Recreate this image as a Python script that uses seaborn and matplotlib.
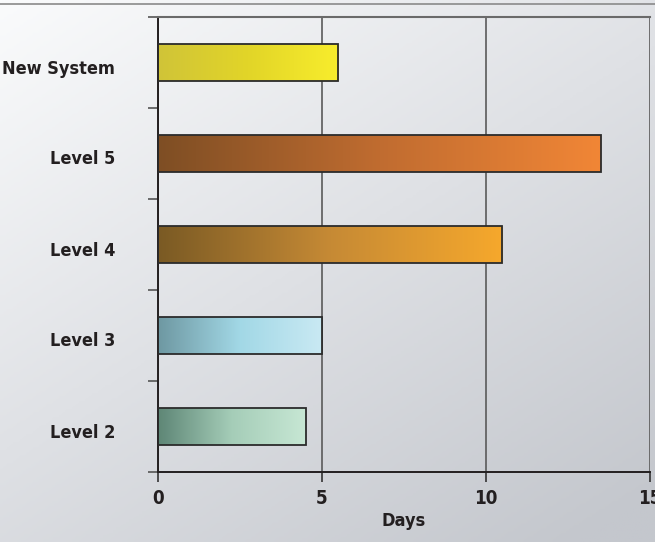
import numpy as np
import pandas as pd
import matplotlib
matplotlib.use("Agg")
import matplotlib.pyplot as plt
from matplotlib.colors import LinearSegmentedColormap
from matplotlib.lines import Line2D
from matplotlib.transforms import ScaledTranslation
import seaborn as sns

# ---- data ----
categories = ["New System", "Level 5", "Level 4", "Level 3", "Level 2"]
days = [5.5, 13.5, 10.5, 5.0, 4.5]
x_ticks = [0, 5, 10, 15]
x_label = "Days"

# ---- style ----
grad_colors = {
    "New System": ["#d0c438", "#e2d528", "#f8ed2c"],
    "Level 5": ["#7e4e24", "#c06c30", "#f18636"],
    "Level 4": ["#7a5a24", "#c68a35", "#f6a82c"],
    "Level 3": ["#6e98a2", "#a2d8e6", "#c9e9f3"],
    "Level 2": ["#5e8676", "#a5cdb8", "#c7e7d4"],
}
text_color = "#231f20"

sns.set_theme(style="white")
plt.rcParams["font.family"] = ["DejaVu Sans"]

fig = plt.figure(figsize=(6.55, 5.42), dpi=100)

# background gradient
bg = fig.add_axes([0, 0, 1, 1], zorder=-10)
yy, xx = np.mgrid[0:1:200j, 0:1:200j]
t = np.clip(0.6 * yy + 0.45 * xx, 0, 1)
bg_cmap = LinearSegmentedColormap.from_list("bg", ["#fafbfc", "#dfe1e5", "#c4c7cd"])
bg.imshow(t, cmap=bg_cmap, aspect="auto", extent=[0, 1, 1, 0], vmin=0, vmax=1)
bg.set_xlim(0, 1); bg.set_ylim(1, 0)
bg.axis("off")

ax = fig.add_axes([158 / 655, 1 - 472 / 542, 492 / 655, 455 / 542])
ax.set_facecolor("none")

df = pd.DataFrame({"category": categories, "days": days})
sns.barplot(data=df, x="days", y="category", order=categories, orient="h",
            width=0.4, ax=ax, color="white", edgecolor="#2b2b2b", linewidth=1.3,
            zorder=3)

# gradient fill for bars
for patch, cat in zip(ax.patches, categories):
    x0, y0 = patch.get_x(), patch.get_y()
    w, h = patch.get_width(), patch.get_height()
    cmap = LinearSegmentedColormap.from_list(cat, grad_colors[cat])
    grad = np.linspace(0, 1, 256).reshape(1, -1)
    im = ax.imshow(grad, cmap=cmap, aspect="auto",
                   extent=[x0, x0 + w, y0 + h, y0], zorder=2.5)
    im.set_clip_path(patch)
    patch.set_facecolor("none")

ax.set_xlim(0, 15)
ax.set_ylim(4.5, -0.5)

# grid
ax.set_xticks(x_ticks)
ax.xaxis.grid(True, color="#5a5a5a", linewidth=1.2, zorder=1)
ax.yaxis.grid(False)
ax.set_axisbelow(True)

# ticks
ax.set_yticks(range(len(categories)))
ax.set_yticks(np.arange(-0.5, len(categories), 1.0), minor=True)
ax.tick_params(axis="y", which="major", length=0, pad=31,
               labelsize=13, labelcolor=text_color)
ax.tick_params(axis="y", which="minor", length=7.2, width=1.2,
               color="#555555", direction="out", left=True)
ax.tick_params(axis="x", which="major", length=7.2, width=1.2,
               color="#333333", direction="out", bottom=True, pad=5,
               labelsize=13.5, labelcolor=text_color)
shift = ScaledTranslation(0, -4 / 100, fig.dpi_scale_trans)
for lab in ax.get_yticklabels():
    lab.set_fontweight("bold")
    lab.set_fontstretch("condensed")
    lab.set_transform(lab.get_transform() + shift)
for lab in ax.get_xticklabels():
    lab.set_fontweight("bold")
    lab.set_fontstretch("condensed")

ax.set_ylabel("")
ax.set_xlabel(x_label, fontsize=13, fontweight="bold", fontstretch="condensed",
              color=text_color, labelpad=3)

for side in ["left", "bottom"]:
    ax.spines[side].set_visible(True)
    ax.spines[side].set_color("#231f20")
    ax.spines[side].set_linewidth(1.4)
ax.spines["top"].set_visible(True)
ax.spines["top"].set_color("#6a6a6a")
ax.spines["top"].set_linewidth(1.5)
ax.spines["right"].set_visible(False)

# thin rule at very top (remnant of cut-off title area)
fig.add_artist(Line2D([0, 1], [1 - 3.5 / 542, 1 - 3.5 / 542],
                      color="#8a8a8a", linewidth=1.2, transform=fig.transFigure))

fig.savefig("out.png", dpi=100)
